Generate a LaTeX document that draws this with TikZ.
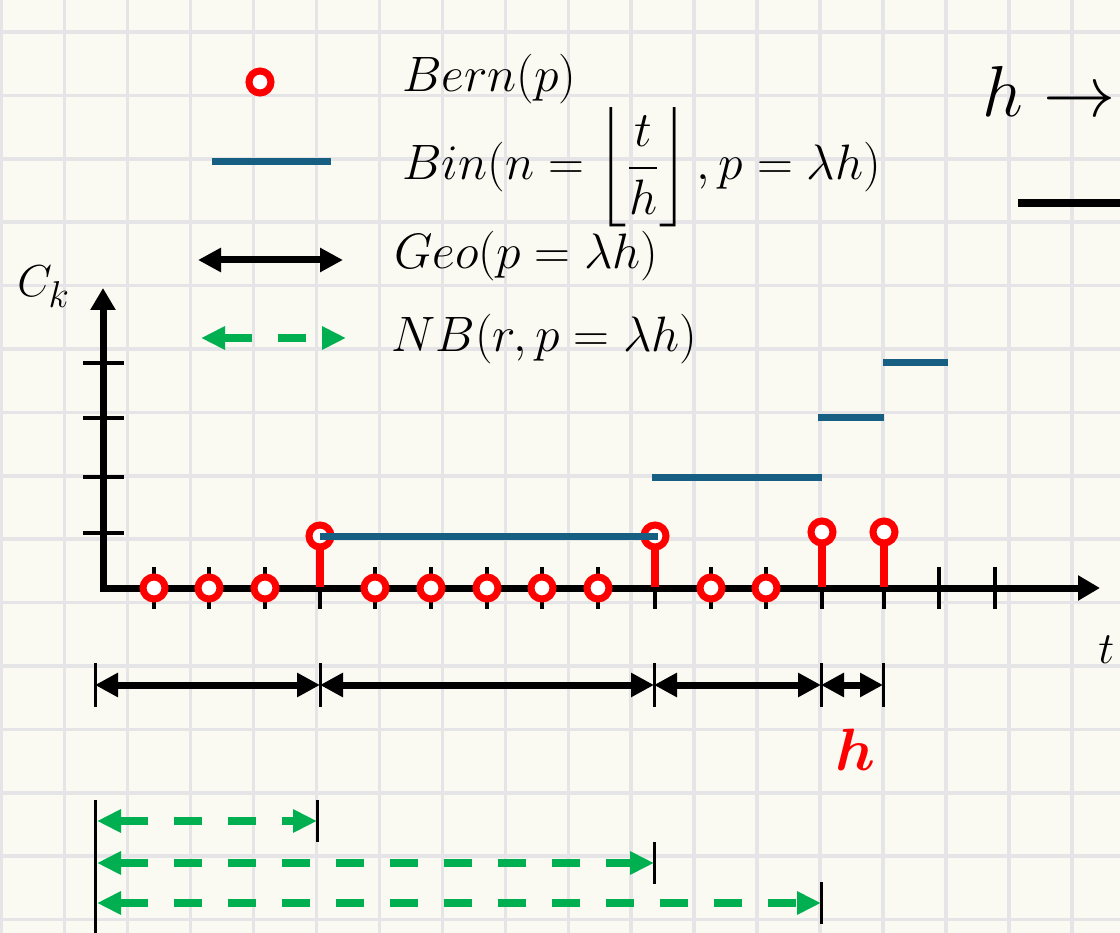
\documentclass[tikz,border=0pt]{standalone}
\usepackage{amsmath, bm}
\usetikzlibrary{arrows.meta}
\definecolor{BernRed}{RGB}{255, 0, 0}
\definecolor{BinBlue}{RGB}{22, 94, 130}
\definecolor{NBGreen}{RGB}{0, 176, 80}
\definecolor{GridGray}{RGB}{229, 229, 232}
\definecolor{Paper}{RGB}{250, 250, 243}

\begin{document}
\begin{tikzpicture}[x=1pt, y=-1pt,
  txt/.style={anchor=base west, inner sep=0pt, font=\Huge, scale=1.8},
  legtxt/.style={txt, scale=2.0/1.8},
  bern/.style={circle, draw=BernRed, line width=7pt, fill=white, inner sep=0pt, minimum size=22pt},
  stemline/.style={BernRed, line width=8pt},
  bin/.style={BinBlue, line width=7pt},
  gridline/.style={GridGray, line width=3.5pt},
  axisline/.style={line width=7pt, {Triangle[length=22pt, width=24pt]}-{Triangle[length=22pt, width=24pt]}},
  tickmark/.style={line width=4pt},
  bound/.style={line width=3pt},
  geo/.style={line width=7pt, {Triangle[length=23pt, width=23pt]}-{Triangle[length=23pt, width=23pt]}},
  nb/.style={NBGreen, line width=8pt, dash pattern=on 28pt off 26pt, {Triangle[length=24pt, width=22pt]}-{Triangle[length=24pt, width=22pt]}}]
\useasboundingbox (0,0) rectangle (1120,933);
\clip (0,0) rectangle (1120,933);
\fill[Paper] (0,0) rectangle (1120,933);
\foreach \i in {0,...,17} \draw[gridline] (1.7+62.95*\i,0) -- (1.7+62.95*\i,933);
\foreach \i in {0,...,14} \draw[gridline] (0,32+63.4*\i) -- (1120,32+63.4*\i);
% legend
\node[bern] (lbern) at (260,82) {};
\coordinate (lbin0) at (212,162); \coordinate (lbin1) at (331,162);
\coordinate (lgeo0) at (198,260); \coordinate (lgeo1) at (343,260);
\coordinate (lnb0) at (201,338); \coordinate (lnb1) at (346,338);
\draw[bin] (lbin0) -- (lbin1); \draw[geo] (lgeo0) -- (lgeo1); \draw[nb] (lnb0) -- (lnb1);
\node[legtxt] (tbern) at (402,92) {$Bern(p)$};
\node[legtxt] (tbin) at (402,180) {$Bin(n=\left\lfloor\dfrac{t}{h}\right\rfloor,p=\lambda h)$};
\node[legtxt] (tgeo) at (394,269) {$Geo(p=\lambda h)$};
\node[legtxt] (tnb) at (391,352) {$NB(r,p=\lambda h)$};
\node[txt, scale=2.9/1.8] (hlim) at (982,117) {$h\rightarrow$};
\draw[line width=8pt] (1018,203) -- (1130,203);
% axes
\foreach \y in {363,418,477,533} \draw[tickmark] (83,\y) -- (124,\y);
\foreach \x in {154,209,265,320,375,431,487,542,598,655,711,766,822,884,939,995} \draw[tickmark] (\x,567) -- (\x,609);
\draw[axisline] (103,288) -- (103,588) -- (1100,588);
\node[txt] (ck) at (17,297) {$C_k$};
\node[txt] (tt) at (1098,663) {$t$};
% trials
\foreach \x [count=\i] in {154,209,265,375,431,487,542,598,711,766} \node[bern] (b\i) at (\x,588) {};
\foreach \x/\y [count=\i] in {320/536,655/536,822/532,884/532} {
  \draw[stemline] (\x,587) -- (\x,\y);
  \node[bern] (s\i) at (\x,\y) {};
}
\draw[bin] (s1.center) -- ([xshift=3pt]s2.center);
\draw[bin] (652,477) -- (822,477); \draw[bin] (818,418) -- (884,418); \draw[bin] (883,363) -- (948,363);
% waiting times
\foreach \x [count=\i from 0] in {95,320,654,821,883} {
  \draw[bound] (\x,663) -- (\x,707);
  \coordinate (g\i) at (\x,685);
}
\draw[geo] (g0) -- (g1); \draw[geo] (g1) -- (g2); \draw[geo] (g2) -- (g3); \draw[geo] (g3) -- (g4);
\node[txt, scale=2.4/1.8, text=BernRed] (th) at (835,770) {$\bm{h}$};
\draw[bound] (95,800) -- (95,940);
\foreach \x/\y [count=\i] in {317/821,654/863,821/903} {
  \draw[bound] (\x,\y-21) -- (\x,\y+21);
  \coordinate (m\i) at (97,\y); \coordinate (n\i) at (\x,\y);
  \draw[nb] (m\i) -- (n\i);
}
\end{tikzpicture}
\end{document}
